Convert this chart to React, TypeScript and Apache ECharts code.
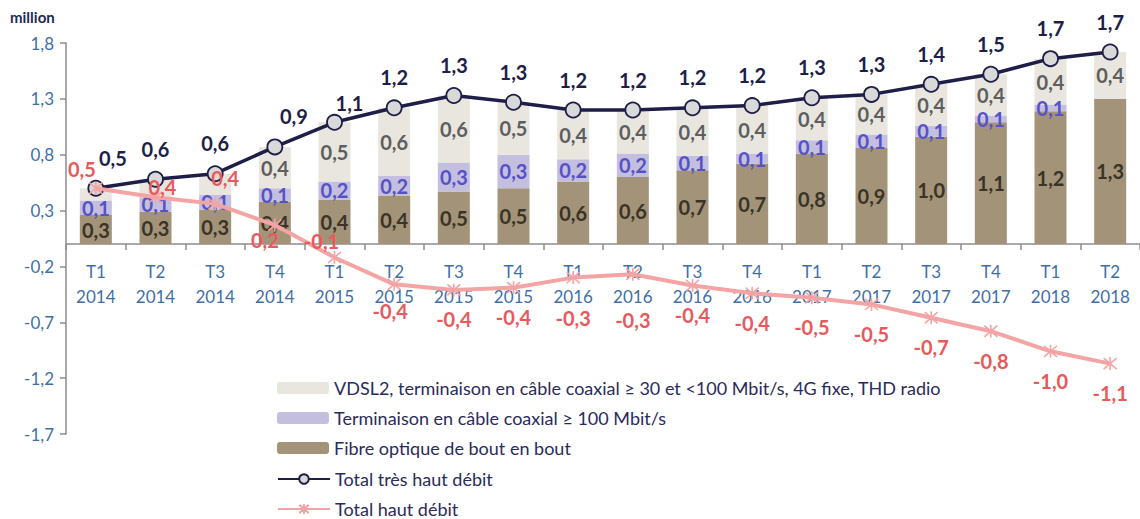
import React, { useEffect, useRef } from "react";
import * as echarts from "echarts";

const categories = [
  "T1\n2014", "T2\n2014", "T3\n2014", "T4\n2014",
  "T1\n2015", "T2\n2015", "T3\n2015", "T4\n2015",
  "T1\n2016", "T2\n2016", "T3\n2016", "T4\n2016",
  "T1\n2017", "T2\n2017", "T3\n2017", "T4\n2017",
  "T1\n2018", "T2\n2018",
];

const fibre = [0.26, 0.29, 0.31, 0.38, 0.40, 0.43, 0.47, 0.50, 0.56, 0.60, 0.66, 0.72, 0.81, 0.86, 0.96, 1.09, 1.19, 1.30];
const coax = [0.13, 0.13, 0.13, 0.12, 0.16, 0.18, 0.26, 0.30, 0.20, 0.21, 0.13, 0.09, 0.12, 0.12, 0.10, 0.06, 0.06, 0];
const vdsl = [0.11, 0.16, 0.19, 0.37, 0.53, 0.61, 0.60, 0.47, 0.44, 0.39, 0.43, 0.43, 0.38, 0.36, 0.37, 0.37, 0.41, 0.42];
const totalTHD = [0.50, 0.58, 0.63, 0.87, 1.09, 1.22, 1.33, 1.27, 1.20, 1.20, 1.22, 1.24, 1.31, 1.34, 1.43, 1.52, 1.66, 1.72];
const totalHD = [0.50, 0.42, 0.36, 0.17, -0.12, -0.36, -0.41, -0.39, -0.30, -0.27, -0.37, -0.44, -0.48, -0.54, -0.66, -0.78, -0.96, -1.07];

const yMin = -1.7;
const yMax = 1.8;
const yInterval = 0.5;

const names = {
  vdsl: "VDSL2, terminaison en câble coaxial ≥ 30 et <100 Mbit/s, 4G fixe, THD radio",
  coax: "Terminaison en câble coaxial ≥ 100 Mbit/s",
  fibre: "Fibre optique de bout en bout",
  thd: "Total très haut débit",
  hd: "Total haut débit",
};

const FONT = "Lato, 'Open Sans', sans-serif";
const fmt = (v: number) => v.toFixed(1).replace(".", ",");

// layout constants (styling only)
const GRID_TOP = 43;
const GRID_BOTTOM = 85;
const CHART_H = 519;

// label placement tweaks (styling only)
const thdLabelOffset: Record<number, number[]> = { 0: [17, 0], 3: [19, 0], 4: [15, 11] };
const hdLabelTweak: Record<number, { position: string; offset: number[] }> = {
  0: { position: "top", offset: [-14, 10] },
  1: { position: "top", offset: [7, 19] },
  2: { position: "top", offset: [10, 3] },
  3: { position: "bottom", offset: [-10, -14] },
  4: { position: "top", offset: [-13, 13] },
  5: { position: "bottom", offset: [-4, -3] },
  8: { position: "bottom", offset: [0, 11] },
  9: { position: "bottom", offset: [0, 16] },
};

export default function App() {
  const ref = useRef<HTMLDivElement>(null);
  useEffect(() => {
    if (!ref.current) return;
    const chart = echarts.init(ref.current, null, { renderer: "svg" });

    const plotH = CHART_H - GRID_TOP - GRID_BOTTOM;
    const zeroFromBottom = (0 - yMin) / (yMax - yMin) * plotH;

    const barLabel = (color: string) => ({
      show: true,
      position: "inside",
      color,
      fontFamily: FONT,
      fontSize: 20,
      fontWeight: "bold",
      formatter: (p: any) => fmt(p.value),
    });

    const legendBase = {
      orient: "vertical",
      left: 277,
      padding: 0,
      itemWidth: 52,
      itemHeight: 12,
      itemGap: 12,
      textStyle: { fontFamily: FONT, fontSize: 18, color: "#2b2b5c" },
    };

    const option: any = {
      animation: false,
      textStyle: { fontFamily: FONT },
      grid: { left: 66, right: -2, top: GRID_TOP, bottom: GRID_BOTTOM, containLabel: false },
      legend: [
        { ...legendBase, top: 379, data: [names.vdsl, names.coax, names.fibre] },
        { ...legendBase, top: 470, data: [names.thd, names.hd] },
      ],
      graphic: [
        {
          type: "text",
          left: 10,
          top: 9,
          style: { text: "million", fontFamily: FONT, fontSize: 15, fontWeight: "bold", fill: "#1f2a4f" },
        },
      ],
      xAxis: {
        type: "category",
        data: categories,
        offset: -Math.round(zeroFromBottom),
        axisLine: { onZero: false, lineStyle: { color: "#8c8c8c", width: 1.5 } },
        axisTick: { show: true, length: 6, lineStyle: { color: "#8c8c8c", width: 1.5 } },
        axisLabel: {
          color: "#3f6fa8",
          fontFamily: FONT,
          fontSize: 17,
          lineHeight: 25,
          margin: 15,
          interval: 0,
        },
      },
      yAxis: {
        type: "value",
        min: yMin,
        max: yMax,
        interval: yInterval,
        axisLine: { show: true, lineStyle: { color: "#8c8c8c", width: 1.5 } },
        axisTick: { show: true, length: 6, lineStyle: { color: "#8c8c8c", width: 1.5 } },
        splitLine: { show: false },
        axisLabel: {
          color: "#3f6fa8",
          fontFamily: FONT,
          fontSize: 17,
          margin: 12,
          formatter: (v: number) => fmt(v),
        },
      },
      series: [
        {
          name: names.fibre,
          type: "bar",
          stack: "thd",
          barWidth: 32,
          itemStyle: { color: "#a39379" },
          label: barLabel("#3a3326"),
          data: fibre,
          z: 2,
        },
        {
          name: names.coax,
          type: "bar",
          stack: "thd",
          barWidth: 32,
          itemStyle: { color: "#c4bfdf" },
          label: barLabel("#5652c6"),
          data: coax.map((v) => ({ value: v, label: { show: v >= 0.05 } })),
          z: 2,
        },
        {
          name: names.vdsl,
          type: "bar",
          stack: "thd",
          barWidth: 32,
          itemStyle: { color: "#e9e6e0" },
          label: barLabel("#5e5e5e"),
          data: vdsl.map((v) => ({ value: v, label: { show: v >= 0.3 } })),
          z: 2,
        },
        {
          name: names.thd,
          type: "line",
          symbol: "circle",
          symbolSize: 15,
          lineStyle: { color: "#1e1e48", width: 3.5 },
          itemStyle: { color: "#d9d9d9", borderColor: "#1e1e48", borderWidth: 1.8 },
          label: {
            show: true,
            position: "top",
            distance: 12,
            color: "#1e1e48",
            fontFamily: FONT,
            fontSize: 20,
            fontWeight: "bold",
            formatter: (p: any) => fmt(p.value),
          },
          data: totalTHD.map((v, i) => ({
            value: v,
            label: thdLabelOffset[i] ? { offset: thdLabelOffset[i] } : {},
          })),
          z: 4,
        },
        {
          name: names.hd,
          type: "line",
          symbol: "path://M5,0L5,10M0.7,0.7L9.3,9.3M9.3,0.7L0.7,9.3",
          symbolSize: 13,
          lineStyle: { color: "#f4a4a4", width: 4 },
          itemStyle: { color: "#f4a4a4", borderColor: "#f4a4a4", borderWidth: 1.6 },
          label: {
            show: true,
            position: "bottom",
            distance: 12,
            color: "#e8595c",
            fontFamily: FONT,
            fontSize: 20,
            fontWeight: "bold",
            formatter: (p: any) => fmt(p.value),
          },
          data: totalHD.map((v, i) => ({
            value: v,
            label: hdLabelTweak[i] ? hdLabelTweak[i] : {},
          })),
          z: 5,
        },
      ],
    };

    chart.setOption(option);
    return () => chart.dispose();
  }, []);

  return (
    <div
      ref={ref}
      style={{ position: "absolute", left: 0, top: 0, width: 1140, height: CHART_H, background: "#fff" }}
    />
  );
}
